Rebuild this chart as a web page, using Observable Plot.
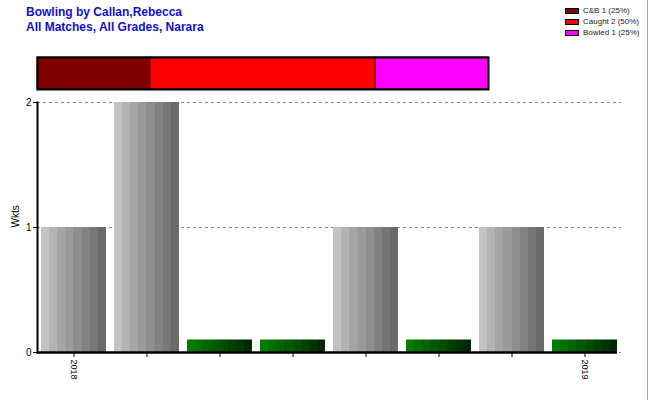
<!DOCTYPE html>
<html>
<head>
<meta charset="utf-8">
<script src="https://cdn.jsdelivr.net/npm/d3@7"></script>
<script src="https://cdn.jsdelivr.net/npm/@observablehq/plot@0.6"></script>
<style>
  html, body { margin: 0; padding: 0; background: #fff; }
  #wrap { position: relative; width: 650px; height: 400px; overflow: hidden; font-family: Arial, "Liberation Sans", sans-serif; }
  #title { position: absolute; left: 26px; top: 5px; color: #1010d0; font-weight: bold; font-size: 12px; line-height: 15px; }
  #legend { position: absolute; left: 565px; top: 5px; font-size: 8px; color: #222; line-height: 11px; }
  #legend div { display: flex; align-items: center; }
  #legend span.sw { display: inline-block; width: 14px; height: 6px; border: 1px solid #000; margin-right: 4px; box-sizing: border-box; }
  #rborder { position: absolute; left: 647px; top: 0; width: 1px; height: 400px; background: #aaa; }
  .abs { position: absolute; left: 0; top: 0; }
</style>
</head>
<body>
<div id="wrap">
  <div id="main" class="abs"></div>
  <div id="topbar" class="abs"></div>
  <div id="title">Bowling by Callan,Rebecca<br>All Matches, All Grades, Narara</div>
  <div id="legend"></div>
  <div id="rborder"></div>
</div>
<script>
// ---- data ----
const matchIndex = [0, 1, 2, 3, 4, 5, 6, 7];
const wickets = [1, 2, 0, 0, 1, 0, 1, 0];
const tickLabels = ["2018", "", "", "", "", "", "", "2019"];
const dismissalTypes = ["C&B", "Caught", "Bowled"];
const dismissalCounts = [1, 2, 1];
const dismissalColors = ["#800000", "#ff0000", "#ff00ff"];
const yTicks = [0, 1, 2];

// ---- styles ----
const zeroStub = 0.1;
const totalW = d3.sum(dismissalCounts);

// legend
const legendEl = document.getElementById("legend");
dismissalTypes.forEach((t, i) => {
  const d = document.createElement("div");
  const pct = Math.round(100 * dismissalCounts[i] / totalW);
  d.innerHTML = `<span class="sw" style="background:${dismissalColors[i]}"></span>${t} ${dismissalCounts[i]} (${pct}%)`;
  legendEl.appendChild(d);
});

// main chart data
const rows = matchIndex.map((m, i) => ({m, w: wickets[i], label: tickLabels[i]}));
const posRows = rows.filter(d => d.w > 0);
const zeroRows = rows.filter(d => d.w === 0).map(d => ({...d, stub: zeroStub}));

const mainChart = Plot.plot({
  width: 650,
  height: 400,
  marginLeft: 37,
  marginRight: 29,
  marginTop: 102,
  marginBottom: 48,
  style: {fontFamily: "Arial, 'Liberation Sans', sans-serif", fontSize: "10px", color: "#000", background: "transparent"},
  x: {type: "band", domain: matchIndex, paddingInner: 0.11, paddingOuter: 0.055, round: false, axis: null},
  y: {domain: [0, 2], axis: null},
  marks: [
    Plot.ruleY(yTicks, {stroke: "#888", strokeDasharray: "3,3", strokeWidth: 1}),
    Plot.barY(posRows, {x: "m", y: "w", fill: "url(#grayGrad)"}),
    Plot.barY(zeroRows, {x: "m", y: "stub", fill: "url(#greenGrad)"}),
    Plot.frame({anchor: "left", stroke: "#000", strokeWidth: 2}),
    Plot.axisY(yTicks, {tickSize: 4, tickFormat: d => String(d), fontSize: 10, label: null, tickPadding: 2}),
    Plot.axisX(matchIndex, {tickSize: 5, tickFormat: i => tickLabels[i], tickRotate: 90, label: null, fontSize: 9, tickPadding: 2}),
    Plot.ruleY([0], {stroke: "#000", strokeWidth: 2.5, insetRight: 4}),
    Plot.text(["Wkts"], {frameAnchor: "left", dx: -22, rotate: -90, fontSize: 10, fill: "#000"})
  ]
});

// gradients
const ns = "http://www.w3.org/2000/svg";
const defs = document.createElementNS(ns, "defs");
function stepped(id, colors) {
  const g = document.createElementNS(ns, "linearGradient");
  g.setAttribute("id", id);
  g.setAttribute("x1", "0"); g.setAttribute("x2", "1");
  g.setAttribute("y1", "0"); g.setAttribute("y2", "0");
  const n = colors.length;
  colors.forEach((c, i) => {
    [i / n, (i + 1) / n].forEach(o => {
      const s = document.createElementNS(ns, "stop");
      s.setAttribute("offset", o);
      s.setAttribute("stop-color", c);
      g.appendChild(s);
    });
  });
  defs.appendChild(g);
}
stepped("grayGrad", ["#c2c2c2", "#b3b3b3", "#a5a5a5", "#9a9a9a", "#8e8e8e", "#828282", "#767676", "#6a6a6a"]);
stepped("greenGrad", ["#007c00", "#007000", "#006400", "#005800", "#004c00", "#004000", "#003400", "#002800"]);
mainChart.insertBefore(defs, mainChart.firstChild);
document.getElementById("main").appendChild(mainChart);

// top stacked bar
const stackRows = dismissalTypes.map((t, i) => ({t, n: dismissalCounts[i]}));
const topChart = Plot.plot({
  width: 650,
  height: 100,
  marginLeft: 37,
  marginRight: 162,
  marginTop: 57,
  marginBottom: 11,
  style: {background: "transparent"},
  x: {domain: [0, totalW], axis: null},
  y: {axis: null},
  color: {domain: dismissalTypes, range: dismissalColors},
  marks: [
    Plot.barX(stackRows, Plot.stackX({x: "n", fill: "t", stroke: "#000", strokeWidth: 1, order: null})),
    Plot.frame({stroke: "#000", strokeWidth: 2})
  ]
});
document.getElementById("topbar").appendChild(topChart);
</script>
</body>
</html>
